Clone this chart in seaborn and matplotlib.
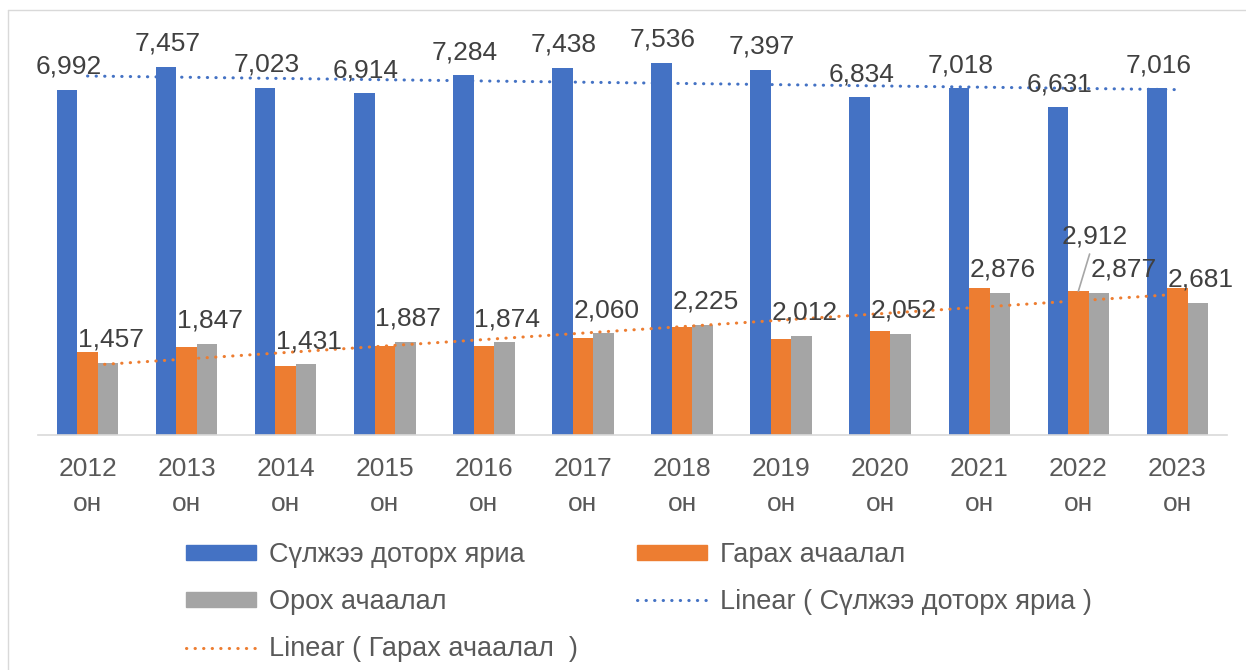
import numpy as np
import pandas as pd
import matplotlib
matplotlib.use("Agg")
import matplotlib.pyplot as plt
import seaborn as sns
from matplotlib.patches import Patch
from matplotlib.lines import Line2D

years = ["2012", "2013", "2014", "2015", "2016", "2017",
         "2018", "2019", "2020", "2021", "2022", "2023"]
tick_labels = [y + "\nон" for y in years]

# Сүлжээ доторх яриа
internal = [6992, 7457, 7023, 6914, 7284, 7438, 7536, 7397, 6834, 7018, 6631, 7016]
# Гарах ачаалал (утгууд зурагнаас ойролцоогоор)
outgoing = [1690, 1780, 1400, 1810, 1800, 1960, 2180, 1950, 2110, 2975, 2912, 2970]
# Орох ачаалал
incoming = [1457, 1847, 1431, 1887, 1874, 2060, 2225, 2012, 2052, 2876, 2877, 2681]

series = ["Сүлжээ доторх яриа", "Гарах ачаалал", "Орох ачаалал"]
colors = ["#4472C4", "#ED7D31", "#A5A5A5"]

df = pd.DataFrame({
    "year": years * 3,
    "value": internal + outgoing + incoming,
    "series": [s for s in series for _ in years],
})

sns.set_theme(style="white")
plt.rcParams["font.family"] = ["Liberation Sans", "DejaVu Sans"]

W, H = 1246, 670
fig = plt.figure(figsize=(W / 100, H / 100), dpi=100)
ax = fig.add_axes([38 / W, (H - 435) / H, (1227 - 38) / W, (435 - 20) / H])

sns.barplot(data=df, x="year", y="value", hue="series", palette=colors,
            width=0.62, linewidth=0, saturation=1, ax=ax, legend=False)

ax.set_xlim(-0.5, 11.5)
ax.set_ylim(0, 8400)

# trend lines (linear fit, as in Excel)
xs = np.arange(len(years))
for vals, col in [(internal, colors[0]), (outgoing, colors[1])]:
    k, b = np.polyfit(xs, vals, 1)
    ax.plot(xs, k * xs + b, color=col, lw=2.2, linestyle=(0, (0.1, 2.7)),
            dash_capstyle="round", zorder=3)

# data labels
lab_col = "#404040"
fs = 19
for bar, v in zip(ax.containers[0], internal):
    ax.annotate(f"{v:,}", (bar.get_x() + bar.get_width() / 2, bar.get_height()),
                xytext=(1, 8), textcoords="offset points", ha="center", va="bottom",
                fontsize=fs, color=lab_col, zorder=5)
for i, (bar, v) in enumerate(zip(ax.containers[2], incoming)):
    dx = 18 if years[i] == "2022" else 2
    ax.annotate(f"{v:,}", (bar.get_x() + bar.get_width() / 2, bar.get_height()),
                xytext=(dx, 8), textcoords="offset points", ha="center", va="bottom",
                fontsize=fs, color=lab_col, zorder=5)
# 2022 гарах ачаалал - шошго шугамтай
i22 = years.index("2022")
b22 = ax.containers[1][i22]
ax.annotate(f"{outgoing[i22]:,}", (b22.get_x() + b22.get_width() / 2, b22.get_height()),
            xytext=(12, 31), textcoords="offset points", ha="center", va="bottom",
            fontsize=fs, color=lab_col, zorder=5,
            arrowprops=dict(arrowstyle="-", color="#A6A6A6", lw=1.2, shrinkA=2, shrinkB=0))

ax.set_xticks(xs)
ax.set_xticklabels(tick_labels, fontsize=19, color="#595959", linespacing=1.55)
ax.tick_params(axis="x", length=0, pad=16)
ax.set_yticks([])
ax.set_xlabel("")
ax.set_ylabel("")
for s in ["top", "right", "left"]:
    ax.spines[s].set_visible(False)
ax.spines["bottom"].set_color("#D9D9D9")
ax.spines["bottom"].set_linewidth(1.2)

dots = (0, (0.1, 2.7))
handles = [
    Patch(color=colors[0], label=series[0]),
    Patch(color=colors[2], label=series[2]),
    Line2D([], [], color=colors[1], lw=2.2, linestyle=dots,
           dash_capstyle="round", label="Linear ( Гарах ачаалал  )"),
    Patch(color=colors[1], label=series[1]),
    Line2D([], [], color=colors[0], lw=2.2, linestyle=dots,
           dash_capstyle="round", label="Linear ( Сүлжээ доторх яриа )"),
]
leg = fig.legend(handles=handles, ncol=2, loc="upper left",
                 bbox_to_anchor=(186 / W, (H - 542) / H), frameon=False,
                 fontsize=19.5, labelcolor="#595959", handlelength=2.6,
                 handleheight=0.5, handletextpad=0.45, columnspacing=2.2,
                 labelspacing=0.78, borderaxespad=0, borderpad=0)

# chart area frame
fig.add_artist(Line2D([8 / W, 8 / W], [0, (H - 10) / H], color="#D9D9D9", lw=1))
fig.add_artist(Line2D([8 / W, 1], [(H - 10) / H, (H - 10) / H], color="#D9D9D9", lw=1))

fig.savefig("out.png", dpi=100, facecolor="white")
